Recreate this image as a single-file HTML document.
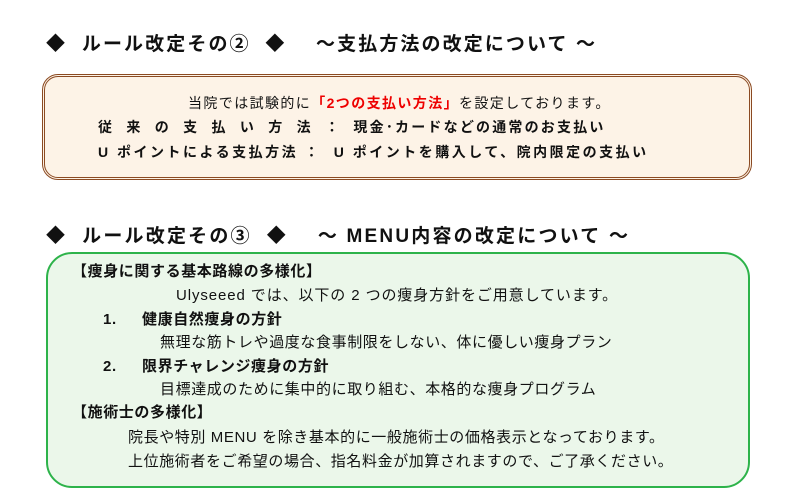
<!DOCTYPE html>
<html><head><meta charset="utf-8"><style>
body{margin:0;width:790px;height:487px;background:#fff;position:relative;overflow:hidden;font-family:"Liberation Sans","Noto Sans CJK JP",sans-serif;color:#111}
.t{position:absolute;white-space:nowrap;line-height:1}
.h{font-size:19px;font-weight:bold}
.b1{position:absolute;left:42px;top:74px;width:704px;height:100px;border:3px double #8b4a22;border-radius:16px;background:#fdf3e7}
.b2{position:absolute;left:46px;top:252px;width:700px;height:232px;border:2px solid #2db34a;border-radius:26px;background:#ebf7ea}
.s{font-size:14px}
.m{font-size:15px;letter-spacing:0.6px}
</style></head><body>
<div class="t h" style="left:46px;top:35px;letter-spacing:2.1px">◆&nbsp; ルール改定その②&nbsp; ◆&nbsp;&nbsp;&nbsp; ～支払方法の改定について ～</div>
<div class="b1"></div>
<div class="t s" style="left:188px;top:96px;letter-spacing:1.4px">当院では試験的に<span style="color:#e00;font-weight:bold">「2つの支払い方法」</span>を設定しております。</div>
<div class="t s" style="left:98px;top:120px;font-weight:bold;letter-spacing:2.2px">従&nbsp; 来&nbsp; の&nbsp; 支&nbsp; 払&nbsp; い&nbsp; 方&nbsp; 法&nbsp; ：&nbsp; 現金･カードなどの通常のお支払い</div>
<div class="t s" style="left:98px;top:145px;font-weight:bold;letter-spacing:2.5px">U ポイントによる支払方法 ：&nbsp; U ポイントを購入して、院内限定の支払い</div>
<div class="t h" style="left:46px;top:227px;letter-spacing:2.2px">◆&nbsp; ルール改定その③&nbsp; ◆&nbsp;&nbsp;&nbsp; ～ MENU内容の改定について ～</div>
<div class="b2"></div>
<div class="t m" style="left:72px;top:264px;font-weight:bold">【痩身に関する基本路線の多様化】</div>
<div class="t m" style="left:176px;top:288px;letter-spacing:0.9px">Ulyseeed では、以下の 2 つの痩身方針をご用意しています。</div>
<div class="t m" style="left:103px;top:312px;font-weight:bold">1.</div>
<div class="t m" style="left:142px;top:312px;font-weight:bold">健康自然痩身の方針</div>
<div class="t m" style="left:160px;top:335px">無理な筋トレや過度な食事制限をしない、体に優しい痩身プラン</div>
<div class="t m" style="left:103px;top:359px;font-weight:bold">2.</div>
<div class="t m" style="left:142px;top:359px;font-weight:bold">限界チャレンジ痩身の方針</div>
<div class="t m" style="left:160px;top:382px">目標達成のために集中的に取り組む、本格的な痩身プログラム</div>
<div class="t m" style="left:72px;top:405px;font-weight:bold">【施術士の多様化】</div>
<div class="t m" style="left:128px;top:430px">院長や特別 MENU を除き基本的に一般施術士の価格表示となっております。</div>
<div class="t m" style="left:128px;top:454px">上位施術者をご希望の場合、指名料金が加算されますので、ご了承ください。</div>
</body></html>
